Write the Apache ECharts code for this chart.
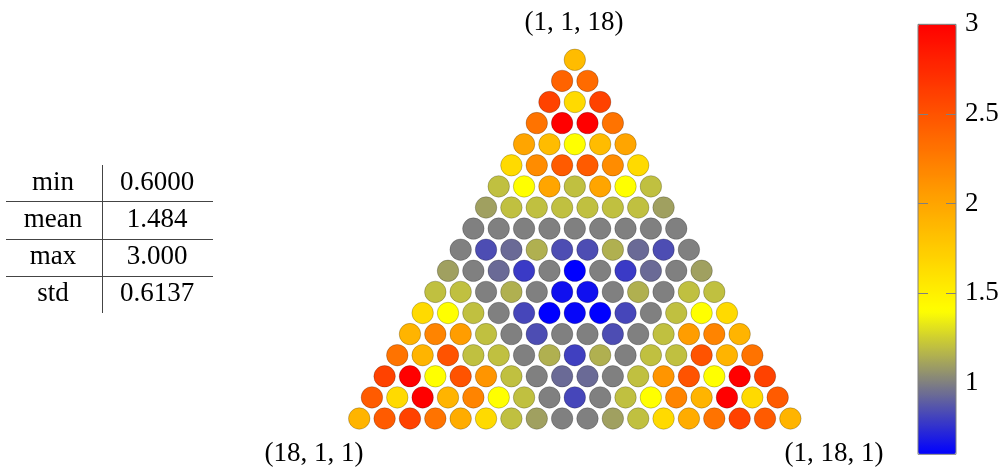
<!DOCTYPE html>
<html>
<head>
<meta charset="utf-8">
<script src="https://cdn.jsdelivr.net/npm/echarts@6/dist/echarts.min.js"></script>
<style>
  html, body { margin: 0; padding: 0; background: #fff; }
  #chart { width: 1003px; height: 470px; }
</style>
</head>
<body>
<div id="chart"></div>
<script>
// ---- Data: values per row of the simplex grid (row 1 = top vertex (1,1,18)) ----
const r1  = [1.85];
const r2  = [2.4, 2.35];
const r3  = [2.6, 1.65, 2.6];
const r4  = [2.3, 3.0, 3.0, 2.3];
const r5  = [2.0, 1.85, 1.4, 1.85, 2.0];
const r6  = [1.65, 2.15, 2.45, 2.45, 2.15, 1.65];
const r7  = [1.2, 1.4, 2.0, 1.2, 2.0, 1.4, 1.2];
const r8  = [1.1, 1.2, 1.2, 1.2, 1.2, 1.2, 1.2, 1.1];
const r9  = [1.0, 1.0, 1.0, 1.0, 1.0, 1.0, 1.0, 1.0, 1.0];
const r10 = [1.0, 0.84, 0.93, 1.15, 0.84, 0.84, 1.15, 0.93, 0.84, 1.0];
const r11 = [1.1, 1.0, 0.93, 0.78, 1.0, 0.6, 1.0, 0.78, 0.93, 1.0, 1.1];
const r12 = [1.2, 1.2, 1.0, 1.15, 1.0, 0.65, 0.65, 1.0, 1.15, 1.0, 1.2, 1.2];
const r13 = [1.65, 1.4, 1.2, 1.0, 0.82, 0.6, 0.62, 0.6, 0.82, 1.0, 1.2, 1.4, 1.65];
const r14 = [1.9, 2.2, 2.05, 1.2, 1.0, 0.84, 1.0, 1.0, 0.84, 1.0, 1.2, 2.05, 2.2, 1.9];
const r15 = [2.3, 1.9, 2.5, 1.2, 1.2, 1.0, 1.15, 0.8, 1.15, 1.0, 1.2, 1.2, 2.5, 1.9, 2.3];
const r16 = [2.6, 3.0, 1.4, 2.5, 2.1, 1.2, 1.0, 0.93, 0.93, 1.0, 1.2, 2.1, 2.5, 1.4, 3.0, 2.6];
const r17 = [2.45, 1.65, 3.0, 1.9, 2.2, 1.4, 1.2, 1.0, 0.82, 1.0, 1.2, 1.4, 2.2, 1.9, 3.0, 1.65, 2.45];
const r18 = [1.9, 2.45, 2.6, 2.3, 1.95, 1.65, 1.2, 1.1, 1.0, 1.0, 1.1, 1.2, 1.65, 1.95, 2.3, 2.6, 2.45, 1.9];
const rows = [r1, r2, r3, r4, r5, r6, r7, r8, r9, r10, r11, r12, r13, r14, r15, r16, r17, r18];

const N = 20; // a + b + c
const cornerLabels = ['(1, 1, 18)', '(18, 1, 1)', '(1, 18, 1)'];
const statNames = ['min', 'mean', 'max', 'std'];
const statValues = ['0.6000', '1.484', '3.000', '0.6137'];
const cbMin = 0.6, cbMax = 3;
const cbTicks = [1, 1.5, 2, 2.5, 3];

// ---- Colormap (blue -> gray -> yellow -> orange -> red) ----
const cmapStops = [[0.6, [0, 0, 255]], [1.0, [128, 128, 128]], [1.4, [255, 255, 0]], [2.0, [255, 165, 0]], [3.0, [255, 0, 0]]];
function cmap(v) {
  for (let i = 0; i < cmapStops.length - 1; i++) {
    const [v0, c0] = cmapStops[i], [v1, c1] = cmapStops[i + 1];
    if (v <= v1 + 1e-9) {
      const t = Math.max(0, Math.min(1, (v - v0) / (v1 - v0)));
      const c = c0.map((x, j) => Math.round(x + (c1[j] - x) * t));
      return 'rgb(' + c.join(',') + ')';
    }
  }
  return 'rgb(255,0,0)';
}
const colors = [];
for (let i = 0; i <= 48; i++) colors.push(cmap(cbMin + i * 0.05));

// ---- Build scatter data: barycentric (a,b,c) -> planar (x,y) ----
const data = [];
rows.forEach((row, r) => {
  row.forEach((v, k) => {
    const b = 1 + k, c = N - 2 - r, a = N - b - c;
    data.push([(b - a) / 2, c, v]);
  });
});

const FONT = '"Liberation Serif", "Times New Roman", serif';
const chart = echarts.init(document.getElementById('chart'), null, { renderer: 'canvas' });

// pixel geometry of the triangle grid
const ux = 25.36, uy = 21.1, cx = 574.8, topY = 59.8;
const gLeft = cx - 9 * ux, gTop = topY - 1 * uy;

const graphics = [];
// corner labels
graphics.push({ type: 'text', x: 574, y: 22.5, style: { text: cornerLabels[0], font: '27px ' + FONT, fill: '#000', textAlign: 'center', textVerticalAlign: 'middle' } });
graphics.push({ type: 'text', x: 314, y: 454, style: { text: cornerLabels[1], font: '27px ' + FONT, fill: '#000', textAlign: 'center', textVerticalAlign: 'middle' } });
graphics.push({ type: 'text', x: 834, y: 454, style: { text: cornerLabels[2], font: '27px ' + FONT, fill: '#000', textAlign: 'center', textVerticalAlign: 'middle' } });
// table
const rowY = [183, 220, 257, 294];
statNames.forEach((n, i) => {
  graphics.push({ type: 'text', x: 53, y: rowY[i], style: { text: n, font: '27px ' + FONT, fill: '#000', textAlign: 'center', textVerticalAlign: 'middle' } });
  graphics.push({ type: 'text', x: 157, y: rowY[i], style: { text: statValues[i], font: '27px ' + FONT, fill: '#000', textAlign: 'center', textVerticalAlign: 'middle' } });
});
graphics.push({ type: 'line', shape: { x1: 102.5, y1: 165, x2: 102.5, y2: 313 }, style: { stroke: '#444', lineWidth: 1 } });
[201.5, 239.5, 276.5].forEach(y => {
  graphics.push({ type: 'line', shape: { x1: 6, y1: y, x2: 213, y2: y }, style: { stroke: '#444', lineWidth: 1 } });
});

const option = {
  animation: false,
  backgroundColor: '#fff',
  grid: [
    { left: gLeft, top: gTop, width: 18 * ux, height: 19 * uy, show: false },
    { left: 918, top: 24.3, width: 38, height: 430, show: true, borderColor: '#808080', borderWidth: 1, backgroundColor: 'transparent', z: 10 }
  ],
  xAxis: [
    { type: 'value', gridIndex: 0, min: -9, max: 9, show: false },
    { type: 'value', gridIndex: 1, min: 0, max: 1, show: false }
  ],
  yAxis: [
    { type: 'value', gridIndex: 0, min: 0, max: 19, show: false },
    { type: 'value', gridIndex: 1, min: cbMin, max: cbMax, position: 'left', z: 10,
      axisLine: { show: false }, splitLine: { show: false },
      axisTick: { show: true, inside: true, length: 10, lineStyle: { color: '#808080', width: 1 }, customValues: cbTicks },
      axisLabel: { show: false } },
    { type: 'value', gridIndex: 1, min: cbMin, max: cbMax, position: 'right', z: 10,
      axisLine: { show: false }, splitLine: { show: false },
      axisTick: { show: true, inside: true, length: 10, lineStyle: { color: '#808080', width: 1 }, customValues: cbTicks },
      axisLabel: { show: true, customValues: cbTicks, margin: 9, fontFamily: FONT, fontSize: 27, color: '#000' } }
  ],
  visualMap: {
    type: 'continuous',
    min: cbMin, max: cbMax,
    dimension: 2,
    seriesIndex: 0,
    calculable: false,
    hoverLink: false,
    orient: 'vertical',
    left: 918, top: 24.3,
    padding: 0,
    itemWidth: 38, itemHeight: 430,
    inRange: { color: colors }
  },
  series: [{
    type: 'scatter',
    xAxisIndex: 0, yAxisIndex: 0,
    symbol: 'circle',
    symbolSize: 21.5,
    itemStyle: { borderColor: 'rgba(0,0,0,0.22)', borderWidth: 1, opacity: 1 },
    data: data
  }],
  graphic: graphics
};
chart.setOption(option);
</script>
</body>
</html>
